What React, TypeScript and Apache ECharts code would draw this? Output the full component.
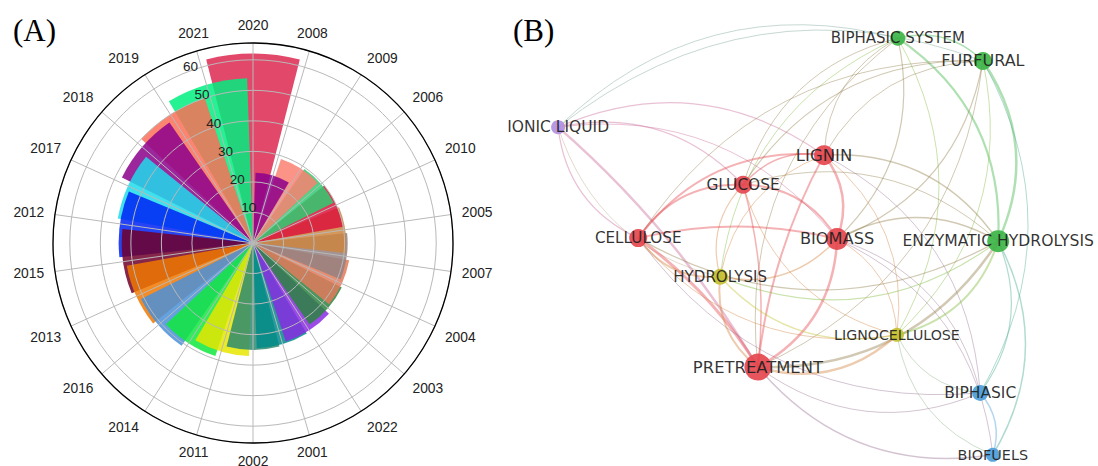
import React, { useEffect, useRef } from 'react';
import * as echarts from 'echarts';

// ---------- Panel A data (drawing order: descending, placed counter-clockwise from top) ----------
const years = ['2020', '2021', '2019', '2018', '2017', '2012', '2015', '2013', '2016', '2014', '2011',
  '2002', '2001', '2022', '2003', '2004', '2007', '2005', '2010', '2006', '2009', '2008'];
const counts = [62, 54, 50, 48, 45, 44, 43, 42, 41, 39, 37, 35, 34.5, 34, 32.5, 32, 31, 30.5, 30, 29.5, 29, 23];
const barColors = ['#DC2850', '#00EE80', '#FA7058', '#8B008B', '#1EDCEB', '#0022F5', '#70002A', '#F07800',
  '#4A90D9', '#10E840', '#E6E600', '#2E8B70', '#008B8B', '#8A2BE2', '#2A8440', '#E07A5A', '#948080',
  '#CD853F', '#DC143C', '#2ECC71', '#FA8072', '#8B008B'];
const radialMax = 65.5;
const radialStep = 10;
const barWidthInBands = 1.75;

// ---------- Panel B data (map layout coordinates, 0..100) ----------
const nodeNames = ['BIPHASIC SYSTEM', 'FURFURAL', 'IONIC LIQUID', 'LIGNIN', 'GLUCOSE', 'CELLULOSE', 'BIOMASS',
  'ENZYMATIC HYDROLYSIS', 'HYDROLYSIS', 'LIGNOCELLULOSE', 'PRETREATMENT', 'BIPHASIC', 'BIOFUELS'];
const nodeX = [77.3, 96.2, 1.8, 60.9, 42.9, 19.6, 63.8, 99.6, 37.8, 77.1, 46.2, 95.6, 98.4];
const nodeY = [1.9, 7.2, 22.6, 29.1, 36.0, 48.4, 48.6, 49.1, 57.4, 70.9, 78.4, 84.4, 98.8];
const nodeWeight = [15, 18, 14, 20, 18, 18, 22, 22, 16, 14, 27, 16, 14];
const nodeCluster = [2, 2, 4, 0, 0, 0, 0, 2, 1, 1, 0, 3, 3];
const edgePairs: [string, string, number][] = [
  ['IONIC LIQUID', 'BIPHASIC SYSTEM', 1], ['IONIC LIQUID', 'FURFURAL', 1], ['IONIC LIQUID', 'LIGNIN', 1.2],
  ['IONIC LIQUID', 'GLUCOSE', 1.2], ['IONIC LIQUID', 'CELLULOSE', 1.2], ['IONIC LIQUID', 'PRETREATMENT', 2.5],
  ['IONIC LIQUID', 'HYDROLYSIS', 1], ['IONIC LIQUID', 'BIOMASS', 1],
  ['BIPHASIC SYSTEM', 'FURFURAL', 1.5], ['BIPHASIC SYSTEM', 'ENZYMATIC HYDROLYSIS', 2.2], ['BIPHASIC SYSTEM', 'LIGNIN', 1],
  ['BIPHASIC SYSTEM', 'BIOMASS', 1.2], ['BIPHASIC SYSTEM', 'GLUCOSE', 1], ['BIPHASIC SYSTEM', 'LIGNOCELLULOSE', 1],
  ['BIPHASIC SYSTEM', 'PRETREATMENT', 1], ['BIPHASIC SYSTEM', 'HYDROLYSIS', 1],
  ['FURFURAL', 'ENZYMATIC HYDROLYSIS', 2.5], ['FURFURAL', 'BIOMASS', 1.2], ['FURFURAL', 'LIGNIN', 1],
  ['FURFURAL', 'GLUCOSE', 1.2], ['FURFURAL', 'CELLULOSE', 1], ['FURFURAL', 'LIGNOCELLULOSE', 1],
  ['FURFURAL', 'PRETREATMENT', 1], ['FURFURAL', 'BIPHASIC', 1],
  ['LIGNIN', 'BIOMASS', 2.5], ['LIGNIN', 'GLUCOSE', 1.5], ['LIGNIN', 'CELLULOSE', 2], ['LIGNIN', 'PRETREATMENT', 2],
  ['LIGNIN', 'ENZYMATIC HYDROLYSIS', 1.5], ['LIGNIN', 'HYDROLYSIS', 1], ['LIGNIN', 'LIGNOCELLULOSE', 1], ['LIGNIN', 'BIPHASIC', 1],
  ['GLUCOSE', 'CELLULOSE', 2], ['GLUCOSE', 'BIOMASS', 2], ['GLUCOSE', 'PRETREATMENT', 1.5], ['GLUCOSE', 'HYDROLYSIS', 1.2],
  ['GLUCOSE', 'ENZYMATIC HYDROLYSIS', 1], ['GLUCOSE', 'LIGNOCELLULOSE', 1],
  ['CELLULOSE', 'BIOMASS', 2], ['CELLULOSE', 'PRETREATMENT', 3], ['CELLULOSE', 'HYDROLYSIS', 2],
  ['CELLULOSE', 'ENZYMATIC HYDROLYSIS', 1.2], ['CELLULOSE', 'LIGNOCELLULOSE', 1], ['CELLULOSE', 'BIPHASIC', 1],
  ['BIOMASS', 'PRETREATMENT', 2.5], ['BIOMASS', 'ENZYMATIC HYDROLYSIS', 1.5], ['BIOMASS', 'HYDROLYSIS', 1.5],
  ['BIOMASS', 'LIGNOCELLULOSE', 1], ['BIOMASS', 'BIPHASIC', 1], ['BIOMASS', 'BIOFUELS', 1],
  ['ENZYMATIC HYDROLYSIS', 'PRETREATMENT', 2.5], ['ENZYMATIC HYDROLYSIS', 'LIGNOCELLULOSE', 2],
  ['ENZYMATIC HYDROLYSIS', 'HYDROLYSIS', 1.2], ['ENZYMATIC HYDROLYSIS', 'BIPHASIC', 1.2], ['ENZYMATIC HYDROLYSIS', 'BIOFUELS', 1.5],
  ['HYDROLYSIS', 'PRETREATMENT', 2], ['HYDROLYSIS', 'LIGNOCELLULOSE', 1.5],
  ['LIGNOCELLULOSE', 'PRETREATMENT', 2.5], ['LIGNOCELLULOSE', 'BIPHASIC', 1], ['LIGNOCELLULOSE', 'BIOFUELS', 1],
  ['PRETREATMENT', 'BIOFUELS', 1.5], ['PRETREATMENT', 'BIPHASIC', 1],
  ['BIPHASIC', 'BIOFUELS', 1.5],
];

// style: colours, label sizes, and a few link bends that differ from the default outward curve
const clusterColors = ['#E5474F', '#C4C030', '#3DB447', '#4C9ED9', '#B18FE0'];
const labelSizes = [15, 16, 15.5, 16.5, 15.4, 15.2, 16.2, 15.6, 15.1, 14.2, 16.4, 15.5, 14.4];
const bendOverride: Record<string, number> = {
  'IONIC LIQUID|PRETREATMENT': -0.08,
  'CELLULOSE|PRETREATMENT': -0.1,
  'CELLULOSE|BIOMASS': 0.12,
  'GLUCOSE|PRETREATMENT': -0.1,
  'LIGNIN|PRETREATMENT': 0.1,
};

function hexToRgb(h: string) {
  const n = parseInt(h.slice(1), 16);
  return [(n >> 16) & 255, (n >> 8) & 255, n & 255];
}
function mix(a: string, b: string) {
  const x = hexToRgb(a), y = hexToRgb(b);
  return `rgb(${Math.round((x[0] + y[0]) / 2)},${Math.round((x[1] + y[1]) / 2)},${Math.round((x[2] + y[2]) / 2)})`;
}

export default function App() {
  const ref = useRef<HTMLDivElement>(null);
  useEffect(() => {
    if (!ref.current) return;
    const chart = echarts.init(ref.current, undefined, { renderer: 'svg' });

    const idx: Record<string, number> = {};
    nodeNames.forEach((n, i) => (idx[n] = i));
    const cx = nodeX.reduce((a, b) => a + b, 0) / nodeX.length;
    const cy = nodeY.reduce((a, b) => a + b, 0) / nodeY.length;

    const links = edgePairs.map(([s, t, w]) => {
      const a = idx[s], b = idx[t];
      const x1 = nodeX[a] * 4.5, y1 = nodeY[a] * 4.3, x2 = nodeX[b] * 4.5, y2 = nodeY[b] * 4.3;
      const dx = y2 - y1, dy = x1 - x2;
      const ox = (x1 + x2) / 2 - cx * 4.5, oy = (y1 + y2) / 2 - cy * 4.3;
      const sign = dx * ox + dy * oy >= 0 ? 1 : -1;
      const key = s + '|' + t;
      const bend = key in bendOverride ? bendOverride[key] : 0.28;
      return {
        source: s, target: t,
        lineStyle: {
          width: w, curveness: bend * sign,
          color: mix(clusterColors[nodeCluster[a]], clusterColors[nodeCluster[b]]),
        },
      };
    });

    const halfBar = (Math.PI * 2 / years.length) * barWidthInBands / 2;

    const option: any = {
      animation: false,
      backgroundColor: '#ffffff',
      polar: [
        { center: [253, 243], radius: 200 },
        { center: [253, 243], radius: 200 },
      ],
      angleAxis: [
        {
          polarIndex: 0, type: 'category', data: years, startAngle: 90 - 180 / years.length,
          clockwise: false, boundaryGap: true, z: 10,
          axisLine: { show: true, lineStyle: { color: '#000', width: 1.3 } },
          axisTick: { show: false, alignWithLabel: true },
          axisLabel: { color: '#222', fontSize: 13.8, margin: 11, fontFamily: 'Liberation Sans' },
          splitLine: { show: true, lineStyle: { color: '#b9b9b9', width: 1 } },
        },
        { polarIndex: 1, type: 'value', min: 0, max: 360, startAngle: 112.5, show: false },
      ],
      radiusAxis: [
        {
          polarIndex: 0, type: 'value', min: 0, max: radialMax, interval: radialStep, z: 10,
          axisLine: { show: false }, axisTick: { show: false }, axisLabel: { show: false },
          splitLine: { show: true, lineStyle: { color: '#b9b9b9', width: 1 } },
        },
        {
          polarIndex: 1, type: 'value', min: 0, max: radialMax, interval: radialStep, z: 11,
          axisLine: { show: false }, axisTick: { show: false }, splitLine: { show: false },
          axisLabel: {
            color: '#222', fontSize: 13.5, margin: 0, align: 'left', verticalAlign: 'bottom',
            showMinLabel: false, showMaxLabel: false, fontFamily: 'Liberation Sans',
          },
        },
      ],
      grid: { left: 550, top: 30, width: 450, height: 430 },
      xAxis: { type: 'value', min: 0, max: 100, show: false },
      yAxis: { type: 'value', min: 0, max: 100, inverse: true, show: false },
      series: [
        {
          type: 'custom', coordinateSystem: 'polar', polarIndex: 0, silent: true,
          data: counts.map((v, i) => [v, i]),
          renderItem: (params: any, api: any) => {
            const p = api.coord([api.value(0), api.value(1)]);
            const cs = params.coordSys;
            const a = -p[3];
            return {
              type: 'sector',
              shape: { cx: cs.cx, cy: cs.cy, r0: 0, r: p[2], startAngle: a - halfBar, endAngle: a + halfBar, clockwise: true },
              style: { fill: barColors[params.dataIndex], opacity: 0.85 },
            };
          },
        },
        {
          type: 'graph', coordinateSystem: 'cartesian2d', xAxisIndex: 0, yAxisIndex: 0,
          silent: true,
          data: nodeNames.map((n, i) => ({
            name: n, value: [nodeX[i], nodeY[i]], symbolSize: nodeWeight[i],
            itemStyle: { color: clusterColors[nodeCluster[i]], opacity: 0.92 },
            label: { fontSize: labelSizes[i] },
          })),
          links,
          lineStyle: { opacity: 0.42 },
          label: { show: true, position: 'inside', color: '#1e1e1e', fontFamily: 'DejaVu Sans' },
        },
      ],
      graphic: [
        { type: 'text', left: 13, top: 15, style: { text: '(A)', fontSize: 31, fontFamily: 'Liberation Serif', fill: '#000' } },
        { type: 'text', left: 513, top: 15, style: { text: '(B)', fontSize: 31, fontFamily: 'Liberation Serif', fill: '#000' } },
      ],
    };
    chart.setOption(option);
    return () => chart.dispose();
  }, []);
  return <div ref={ref} style={{ position: 'fixed', left: 0, top: 0, width: 1098, height: 466, background: '#fff' }} />;
}
